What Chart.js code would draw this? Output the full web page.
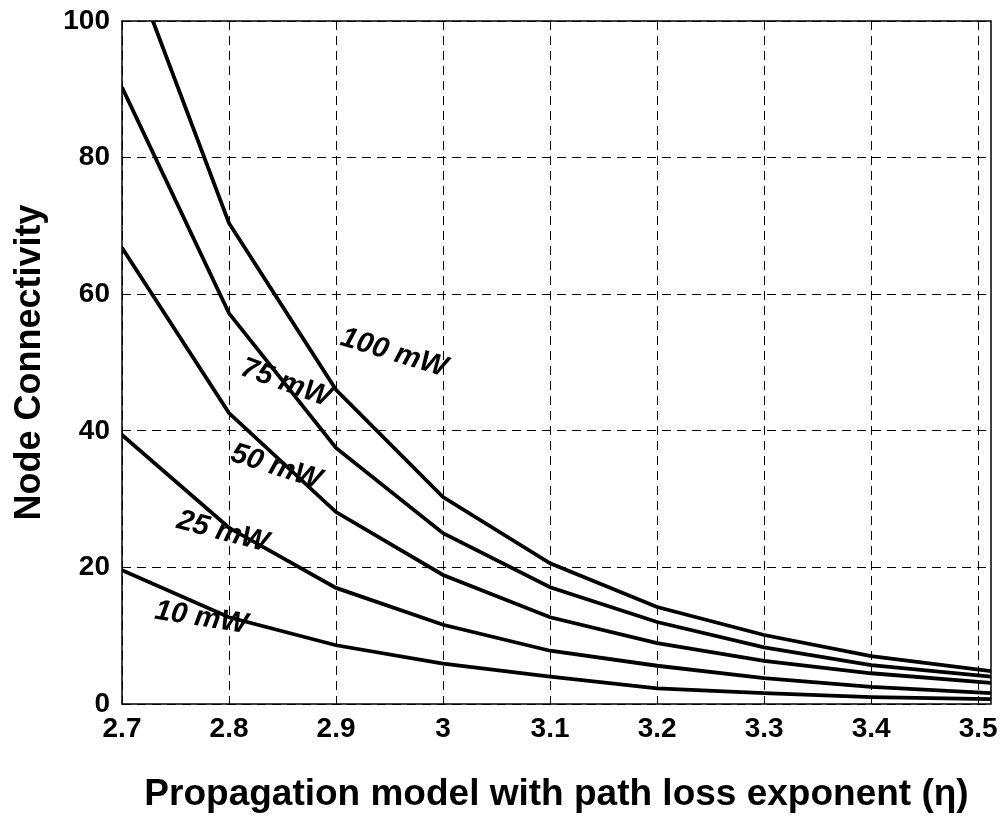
<!DOCTYPE html>
<html>
<head>
<meta charset="utf-8">
<script src="https://cdn.jsdelivr.net/npm/chart.js@4.4.1/dist/chart.umd.min.js"></script>
<style>
  html, body { margin: 0; padding: 0; background: #fff; }
  canvas { display: block; }
</style>
</head>
<body>
<canvas id="myChart" width="1003" height="835"></canvas>
<script>
'use strict';

// path loss exponent values (x)
let etaValues = [ 2.7, 2.8, 2.9, 3.0, 3.1, 3.2, 3.3, 3.4, 3.512 ];
let xTickValues = [ 2.7, 2.8, 2.9, 3.0, 3.1, 3.2, 3.3, 3.4, 3.5 ];
let yTickValues = [ 0, 20, 40, 60, 80, 100 ];

// node connectivity per transmit power
let conn100 = [ 112, 70.4, 46.0, 30.3, 20.6, 14.2, 10.1, 7.0, 4.8 ];
let conn75 = [ 90.3, 57.2, 37.5, 25.0, 17.1, 12.0, 8.3, 5.7, 4.0 ];
let conn50 = [ 66.8, 42.6, 28.1, 18.9, 12.7, 8.9, 6.3, 4.5, 3.1 ];
let conn25 = [ 39.4, 25.8, 17.0, 11.6, 7.8, 5.6, 3.8, 2.5, 1.6 ];
let conn10 = [ 19.6, 12.7, 8.6, 5.9, 4.0, 2.3, 1.6, 1.0, 0.7 ];

let seriesNames = [ '100 mW', '75 mW', '50 mW', '25 mW', '10 mW' ];
let seriesData = [ conn100, conn75, conn50, conn25, conn10 ];

// in-plot curve labels: anchor in data units, angle in degrees
let curveLabels = [
  { text: '100 mW', x: 2.954, y: 51.4, angle: 17 },
  { text: '75 mW', x: 2.853, y: 47.0, angle: 20 },
  { text: '50 mW', x: 2.844, y: 34.7, angle: 18 },
  { text: '25 mW', x: 2.794, y: 25.2, angle: 15 },
  { text: '10 mW', x: 2.774, y: 12.6, angle: 9 }
];

const FONT = '"Liberation Sans", Arial, Helvetica, sans-serif';

function toPoints( arr ) {
  let pts = [];
  for ( let i = 0; i < arr.length; i++ ) {
    pts.push( { x: etaValues[i], y: arr[i] } );
  }
  return pts;
}

let datasets = [];
for ( let i = 0; i < seriesData.length; i++ ) {
  datasets.push( {
    label: seriesNames[i],
    data: toPoints( seriesData[i] ),
    borderColor: '#000',
    borderWidth: 3.8,
    pointRadius: 0,
    fill: false,
    tension: 0
  } );
}

// box round the plot area + curve labels
let boxAndLabels = {
  id: 'boxAndLabels',
  afterDatasetsDraw( chart ) {
    const ctx = chart.ctx;
    const a = chart.chartArea;
    const xs = chart.scales.x;
    const ys = chart.scales.y;
    ctx.save();
    ctx.fillStyle = '#000';
    ctx.font = 'italic bold 29px ' + FONT;
    ctx.textAlign = 'center';
    ctx.textBaseline = 'middle';
    for ( let i = 0; i < curveLabels.length; i++ ) {
      let l = curveLabels[i];
      ctx.save();
      ctx.translate( xs.getPixelForValue( l.x ), ys.getPixelForValue( l.y ) );
      ctx.rotate( l.angle * Math.PI / 180 );
      ctx.fillText( l.text, 0, 0 );
      ctx.restore();
    }
    ctx.strokeStyle = '#000';
    ctx.lineWidth = 1.5;
    ctx.strokeRect( a.left, a.top, a.right - a.left, a.bottom - a.top );
    ctx.restore();
  }
};

Chart.defaults.color = '#000';

let ctx = document.getElementById( 'myChart' ).getContext( '2d' );
let myChart = new Chart( ctx, {
  type: 'line',
  data: { datasets: datasets },
  options: {
    responsive: false,
    animation: false,
    devicePixelRatio: 1,
    layout: { padding: { top: 21, right: 12, left: 0, bottom: 0 } },
    plugins: {
      legend: { display: false },
      tooltip: { enabled: false }
    },
    scales: {
      x: {
        type: 'linear',
        min: 2.7,
        max: 3.512,
        afterBuildTicks( scale ) {
          scale.ticks = xTickValues.map( v => ( { value: v } ) );
        },
        afterFit( scale ) {
          scale.height = 131;
          scale.paddingLeft = 0;
          scale.paddingRight = 0;
        },
        grid: { color: '#000', lineWidth: 1, drawTicks: false },
        border: { display: false, dash: [ 9, 6 ] },
        ticks: {
          padding: 8,
          maxRotation: 0,
          autoSkip: false,
          font: { family: FONT, size: 28, weight: 'bold' },
          callback: v => String( +Number( v ).toFixed( 1 ) )
        },
        title: {
          display: true,
          text: 'Propagation model with path loss exponent (η)',
          font: { family: FONT, size: 37, weight: 'bold' },
          padding: { top: 0, bottom: 18 }
        }
      },
      y: {
        min: 0,
        max: 100,
        afterBuildTicks( scale ) {
          scale.ticks = yTickValues.map( v => ( { value: v } ) );
        },
        afterFit( scale ) {
          scale.width = 122;
          scale.paddingTop = 0;
          scale.paddingBottom = 0;
        },
        grid: { color: '#000', lineWidth: 1, drawTicks: false },
        border: { display: false, dash: [ 9, 6 ] },
        ticks: {
          padding: 12,
          font: { family: FONT, size: 28, weight: 'bold' }
        },
        title: {
          display: true,
          text: 'Node Connectivity',
          font: { family: FONT, size: 36, weight: 'bold' },
          padding: { top: 8, bottom: 0 }
        }
      }
    }
  },
  plugins: [ boxAndLabels ]
} );
</script>
</body>
</html>
